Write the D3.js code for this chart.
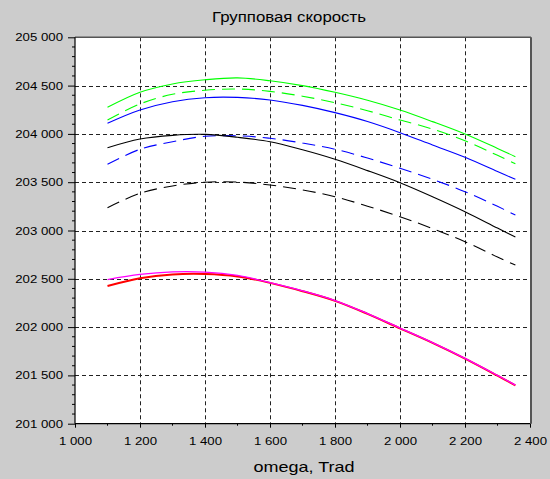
<!DOCTYPE html>
<html>
<head>
<meta charset="utf-8">
<script src="https://cdn.jsdelivr.net/npm/d3@7/dist/d3.min.js"></script>
<style>
  html, body { margin: 0; padding: 0; background: #cccccc; }
  svg { display: block; }
  text { font-family: "Liberation Sans", Arial, sans-serif; fill: #000; }
</style>
</head>
<body>
<svg id="chart" width="550" height="479"></svg>
<script>
// Group velocity vs omega (Trad)
const omega = [1100, 1200, 1300, 1400, 1500, 1600, 1700, 1800, 1900, 2000, 2100, 2200, 2300, 2355];

const greenSolid   = [204275, 204431, 204517, 204560, 204580, 204550, 204500, 204431, 204348, 204247, 204127, 203999, 203850, 203764];
const greenDashed  = [204143, 204310, 204410, 204452, 204465, 204440, 204390, 204323, 204240, 204144, 204050, 203930, 203778, 203690];
const blueSolid    = [204110, 204247, 204333, 204375, 204378, 204351, 204295, 204220, 204128, 204013, 203885, 203758, 203610, 203530];
const blackSolid   = [203857, 203947, 203985, 203995, 203965, 203919, 203835, 203737, 203620, 203495, 203350, 203195, 203025, 202933];
const blueDashed   = [203685, 203841, 203919, 203975, 203980, 203955, 203905, 203841, 203750, 203644, 203530, 203402, 203250, 203160];
const blackDashed  = [203236, 203385, 203461, 203500, 203502, 203471, 203420, 203350, 203252, 203143, 203020, 202884, 202725, 202643];
const redSolid     = [202425, 202505, 202545, 202550, 202525, 202458, 202372, 202272, 202137, 201987, 201837, 201674, 201497, 201397];
const magentaSolid = [202492, 202545, 202572, 202570, 202535, 202460, 202375, 202275, 202140, 201990, 201840, 201677, 201500, 201400];

const xTicks = [1000, 1200, 1400, 1600, 1800, 2000, 2200, 2400];
const yTicks = [201000, 201500, 202000, 202500, 203000, 203500, 204000, 204500, 205000];

const titleText = "Групповая скорость";
const xTitle = "omega, Trad";

const seriesList = [
  { values: redSolid,     color: "#ff0000", dash: null,   width: 2.0 },
  { values: magentaSolid, color: "#ff00ff", dash: null,   width: 1.3 },
  { values: blackDashed,  color: "#000000", dash: "13,7", width: 1.1 },
  { values: blueDashed,   color: "#0000ff", dash: "13,7", width: 1.1 },
  { values: blackSolid,   color: "#000000", dash: null,   width: 1.1 },
  { values: blueSolid,    color: "#0000ff", dash: null,   width: 1.1 },
  { values: greenDashed,  color: "#00ff00", dash: "13,7", width: 1.1 },
  { values: greenSolid,   color: "#00ff00", dash: null,   width: 1.1 }
];

const svg = d3.select("#chart");
const plotL = 75, plotR = 530, plotT = 37.3, plotB = 423.7;
const stretch = 1.2; // text is drawn horizontally widened

const x = d3.scaleLinear().domain([1000, 2400]).range([plotL, plotR]);
const y = d3.scaleLinear().domain([201000, 205000]).range([plotB, plotT]);

const locale = d3.formatLocale({ decimal: ".", thousands: " ", grouping: [3], currency: ["", ""] });
const fmt = locale.format(",");

// widen a text element by the stretch factor, keeping its anchor
function widen(sel) {
  sel.each(function () {
    const w = this.getComputedTextLength();
    d3.select(this).attr("textLength", w * stretch).attr("lengthAdjust", "spacingAndGlyphs");
  });
}

// plot background
svg.append("rect")
  .attr("x", plotL).attr("y", plotT)
  .attr("width", plotR - plotL).attr("height", plotB - plotT)
  .attr("fill", "#ffffff");

// dashed grid
const grid = svg.append("g").attr("stroke", "#222").attr("stroke-width", 1).attr("stroke-dasharray", "4,3");
grid.selectAll("line.h").data(yTicks.slice(1, -1)).join("line")
  .attr("x1", plotL).attr("x2", plotR)
  .attr("y1", d => Math.round(y(d)) + 0.5).attr("y2", d => Math.round(y(d)) + 0.5);
grid.selectAll("line.v").data(xTicks.slice(1, -1)).join("line")
  .attr("y1", plotT).attr("y2", plotB)
  .attr("x1", d => Math.round(x(d)) + 0.5).attr("x2", d => Math.round(x(d)) + 0.5);

// curves
const line = d3.line().x((d, i) => x(omega[i])).y(d => y(d)).curve(d3.curveCatmullRom);
seriesList.forEach(s => {
  svg.append("path")
    .datum(s.values)
    .attr("d", line)
    .attr("fill", "none")
    .attr("stroke", s.color)
    .attr("stroke-width", s.width)
    .attr("stroke-dasharray", s.dash);
});

// frame: top and right edges
svg.append("line").attr("x1", plotL).attr("x2", plotR + 1).attr("y1", plotT).attr("y2", plotT)
  .attr("stroke", "#555").attr("stroke-width", 1.5);
svg.append("line").attr("x1", plotR + 1).attr("x2", plotR + 1).attr("y1", plotT).attr("y2", plotB)
  .attr("stroke", "#555").attr("stroke-width", 2);

// y axis
const yAxis = d3.axisLeft(y).tickValues(yTicks).tickFormat(fmt).tickSize(7).tickPadding(5);
const gy = svg.append("g").attr("transform", `translate(${plotL},0)`).call(yAxis);
gy.append("g").selectAll("line").data(d3.range(201100, 205000, 100).filter(v => v % 500 !== 0)).join("line")
  .attr("x1", -3).attr("x2", 0).attr("y1", d => y(d)).attr("y2", d => y(d)).attr("stroke", "#000");

// x axis
const xAxis = d3.axisBottom(x).tickValues(xTicks).tickFormat(fmt).tickSize(4).tickPadding(10);
const gx = svg.append("g").attr("transform", `translate(0,${plotB})`).call(xAxis);
gx.append("g").selectAll("line").data(d3.range(1100, 2400, 200)).join("line")
  .attr("y1", 0).attr("y2", 2).attr("x1", d => x(d)).attr("x2", d => x(d)).attr("stroke", "#000");

[gx, gy].forEach(g => {
  g.selectAll("text")
    .attr("font-family", "Liberation Sans, Arial, sans-serif")
    .attr("font-size", 11).attr("fill", "#000")
    .call(widen);
  g.select(".domain").attr("stroke", "#000").attr("stroke-width", 1.2);
});
gy.select(".domain").attr("d", `M0,${plotT}V${plotB}`);
gx.select(".domain").attr("d", `M${plotL},0H${plotR}`);

// titles
svg.append("text").attr("x", 289).attr("y", 22).attr("text-anchor", "middle")
  .attr("font-size", 14).text(titleText).call(widen);
svg.append("text").attr("x", 304).attr("y", 472).attr("text-anchor", "middle")
  .attr("font-size", 15).text(xTitle).call(widen);
</script>
</body>
</html>
